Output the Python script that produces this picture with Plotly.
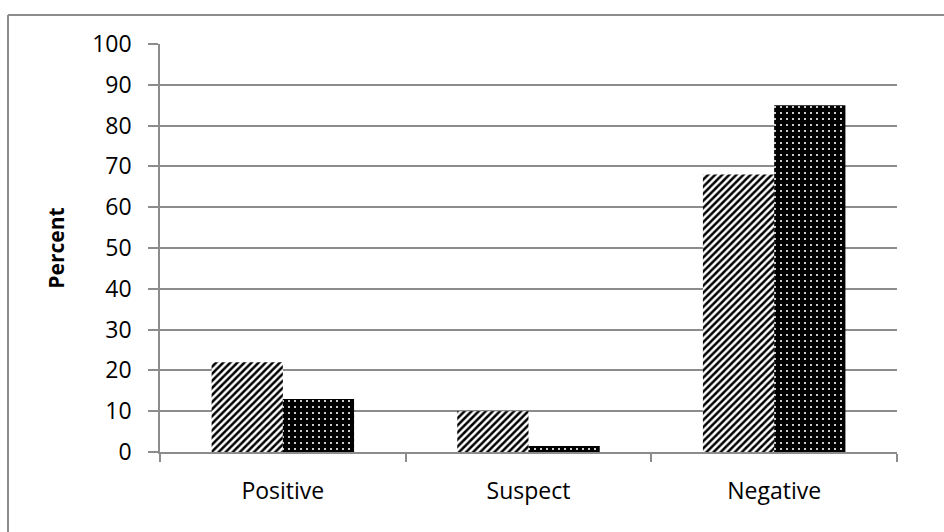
import plotly.graph_objects as go

categories = ["Positive", "Suspect", "Negative"]
series_a = [22, 10, 68]
series_b = [13, 1.5, 85]
y_ticks = [0, 10, 20, 30, 40, 50, 60, 70, 80, 90, 100]

FONT = "Open Sans"
GRAY = "#8c8c8c"

fig = go.Figure()
fig.add_trace(go.Bar(
    x=categories, y=series_a, name="A",
    marker=dict(color="white", line=dict(width=0),
                pattern=dict(shape="/", fgcolor="black", bgcolor="white",
                             size=5, solidity=0.5, fillmode="replace")),
))
fig.add_trace(go.Bar(
    x=categories, y=series_b, name="B",
    marker=dict(color="black", line=dict(width=0),
                pattern=dict(shape=".", fgcolor="white", bgcolor="black",
                             size=6, solidity=0.1, fillmode="replace")),
))

fig.update_layout(
    width=944, height=532,
    margin=dict(l=160, r=47, t=44, b=80),
    paper_bgcolor="white", plot_bgcolor="white",
    showlegend=False,
    barmode="group", bargap=0.42, bargroupgap=0,
    font=dict(family=FONT, size=23, color="black"),
    xaxis=dict(
        type="category", tickson="boundaries", ticks="outside", ticklen=8,
        tickcolor=GRAY, tickwidth=1.5,
        showline=True, linecolor=GRAY, linewidth=1.5,
        showgrid=False, ticklabelstandoff=18,
        tickfont=dict(family=FONT, size=23),
    ),
    yaxis=dict(
        range=[0, 100], tickvals=y_ticks, ticks="outside", ticklen=10,
        tickcolor=GRAY, tickwidth=1.5,
        showline=True, linecolor=GRAY, linewidth=1.5,
        showgrid=True, gridcolor=GRAY, gridwidth=1.5,
        zeroline=False, ticklabelstandoff=12,
        tickfont=dict(family=FONT, size=23),
        title=dict(text="<b>Percent</b>", standoff=22,
                   font=dict(family=FONT, size=21)),
    ),
    shapes=[
        dict(type="line", xref="paper", yref="paper",
             x0=(8 - 160) / 737, x1=1.1, y0=(532 - 15 - 80) / 408, y1=(532 - 15 - 80) / 408,
             line=dict(color=GRAY, width=2)),
        dict(type="line", xref="paper", yref="paper",
             x0=(8 - 160) / 737, x1=(8 - 160) / 737, y0=(532 - 15 - 80) / 408, y1=-0.3,
             line=dict(color=GRAY, width=2)),
    ],
)

fig.write_html("out.html", config={"displayModeBar": False},
               post_script="document.body.style.margin='0';document.body.style.overflow='hidden';")
